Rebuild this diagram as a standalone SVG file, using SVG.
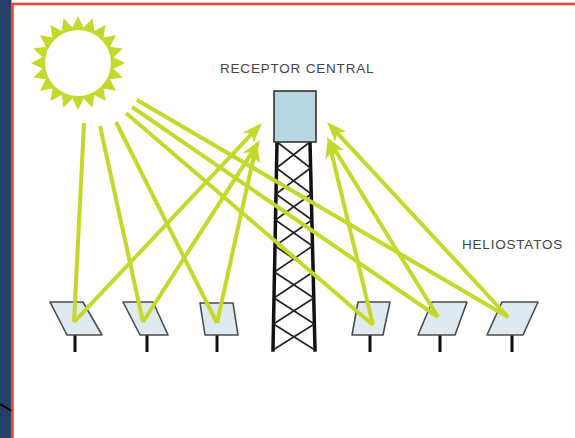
<svg xmlns="http://www.w3.org/2000/svg" width="575" height="438" viewBox="0 0 575 438">
  <style>
    .ray { stroke: #c3d82a; stroke-width: 4; fill: none; stroke-linecap: butt; }
    .mirror { fill: #dfe9f0; stroke: #4a4a4a; stroke-width: 1.6; stroke-linejoin: round; }
    .pole { stroke: #111; stroke-width: 3; }
    .leg { stroke: #111; stroke-width: 3.5; stroke-linecap: square; }
    .brace { stroke: #222; stroke-width: 1.6; }
    .label { font-family: "Liberation Sans", Arial, sans-serif; font-size: 13.5px; letter-spacing: 0.8px; fill: #444; }
  </style>
  <defs>
    <marker id="arrow" markerUnits="userSpaceOnUse" markerWidth="30" markerHeight="30" viewBox="-15 -15 30 30" refX="0" refY="0" orient="auto">
      <path d="M10,0 L-10,-7.5 L-5,0 L-10,7.5 Z" fill="#c3d82a"/>
    </marker>
  </defs>

  <!-- page background and frame -->
  <rect x="0" y="0" width="575" height="438" fill="#ffffff"/>
  <rect x="0" y="0" width="11.5" height="438" fill="#24406a"/>
  <line x1="0" y1="404" x2="12" y2="411" stroke="#000" stroke-width="2"/>
  <line x1="12.5" y1="3" x2="12.5" y2="438" stroke="#f03c3c" stroke-width="2.5"/>
  <line x1="12" y1="4" x2="575" y2="4" stroke="#f03c3c" stroke-width="2.5"/>

  <!-- sun -->
  <g id="sun">
    <polygon fill="#c3d82a" points="78,16 83.63,27.44 92.52,18.30 94.34,30.92 105.63,24.98 103.46,37.54 116.02,35.37 110.08,46.66 122.70,48.48 113.56,57.37 125,63 113.56,68.63 122.70,77.52 110.08,79.34 116.02,90.63 103.46,88.46 105.63,101.02 94.34,95.08 92.52,107.70 83.63,98.56 78,110 72.37,98.56 63.48,107.70 61.66,95.08 50.37,101.02 52.54,88.46 39.98,90.63 45.92,79.34 33.30,77.52 42.44,68.63 31,63 42.44,57.37 33.30,48.48 45.92,46.66 39.98,35.37 52.54,37.54 50.37,24.98 61.66,30.92 63.48,18.30 72.37,27.44"/>
    <circle cx="78" cy="63" r="33" fill="#ffffff"/>
  </g>

  <!-- central receiver tower -->
  <g id="tower">
    <line class="leg" x1="277" y1="142" x2="273" y2="350"/>
    <line class="leg" x1="310" y1="142" x2="315" y2="350"/>
    <g class="brace">
      <line x1="277" y1="142" x2="310.6" y2="168"/><line x1="310" y1="142" x2="276.5" y2="168"/>
      <line x1="276.5" y1="168" x2="311.3" y2="194"/><line x1="310.6" y1="168" x2="276" y2="194"/>
      <line x1="276" y1="194" x2="311.9" y2="220"/><line x1="311.3" y1="194" x2="275.5" y2="220"/>
      <line x1="275.5" y1="220" x2="312.5" y2="246"/><line x1="311.9" y1="220" x2="275" y2="246"/>
      <line x1="275" y1="246" x2="313.1" y2="272"/><line x1="312.5" y1="246" x2="274.5" y2="272"/>
      <line x1="274.5" y1="272" x2="313.8" y2="298"/><line x1="313.1" y1="272" x2="274" y2="298"/>
      <line x1="274" y1="298" x2="314.4" y2="324"/><line x1="313.8" y1="298" x2="273.5" y2="324"/>
      <line x1="273.5" y1="324" x2="315" y2="350"/><line x1="314.4" y1="324" x2="273" y2="350"/>
    </g>
    <rect id="receptor" x="274" y="91" width="42" height="51" fill="#b9d5e1" stroke="#333" stroke-width="1.6"/>
    <text class="label" x="220" y="73">RECEPTOR CENTRAL</text>
  </g>

  <!-- heliostats -->
  <g id="heliostat-1">
    <line class="pole" x1="75" y1="335" x2="75" y2="352"/>
    <polygon class="mirror" points="50,302 83,302 102,335 67,335"/>
  </g>
  <g id="heliostat-2">
    <line class="pole" x1="147" y1="335" x2="147" y2="352"/>
    <polygon class="mirror" points="123,302 153,302 168,335 140,335"/>
  </g>
  <g id="heliostat-3">
    <line class="pole" x1="217" y1="335" x2="217" y2="352"/>
    <polygon class="mirror" points="200,303 233,303 238,335 205,335"/>
  </g>
  <g id="heliostat-4">
    <line class="pole" x1="370" y1="335" x2="370" y2="352"/>
    <polygon class="mirror" points="358,302 390,302 383,335 352,335"/>
  </g>
  <g id="heliostat-5">
    <line class="pole" x1="440" y1="335" x2="440" y2="352"/>
    <polygon class="mirror" points="432,302 467,302 455,335 418,335"/>
  </g>
  <g id="heliostat-6">
    <line class="pole" x1="512" y1="335" x2="512" y2="352"/>
    <polygon class="mirror" points="502,302 538,302 523,335 487,335"/>
  </g>
  <text class="label" x="462" y="249">HELIOSTATOS</text>

  <!-- sunlight: incident rays and reflected rays -->
  <g id="connectors">
    <line class="ray" x1="84" y1="123" x2="74" y2="322"/>
    <line class="ray" x1="100" y1="126" x2="143" y2="322"/>
    <line class="ray" x1="116" y1="122" x2="217" y2="323"/>
    <line class="ray" x1="126" y1="113" x2="373" y2="325"/>
    <line class="ray" x1="132" y1="107" x2="438" y2="317"/>
    <line class="ray" x1="137" y1="100" x2="508" y2="317"/>

    <line class="ray" x1="74" y1="322" x2="255.1" y2="130.3" marker-end="url(#arrow)"/>
    <line class="ray" x1="143" y1="322" x2="254.6" y2="148.4" marker-end="url(#arrow)"/>
    <line class="ray" x1="217" y1="323" x2="254.8" y2="151.8" marker-end="url(#arrow)"/>
    <line class="ray" x1="373" y1="325" x2="330.3" y2="147.7" marker-end="url(#arrow)"/>
    <line class="ray" x1="438" y1="317" x2="332.2" y2="145.5" marker-end="url(#arrow)"/>
    <line class="ray" x1="508" y1="317" x2="333.8" y2="129.3" marker-end="url(#arrow)"/>
  </g>
</svg>
